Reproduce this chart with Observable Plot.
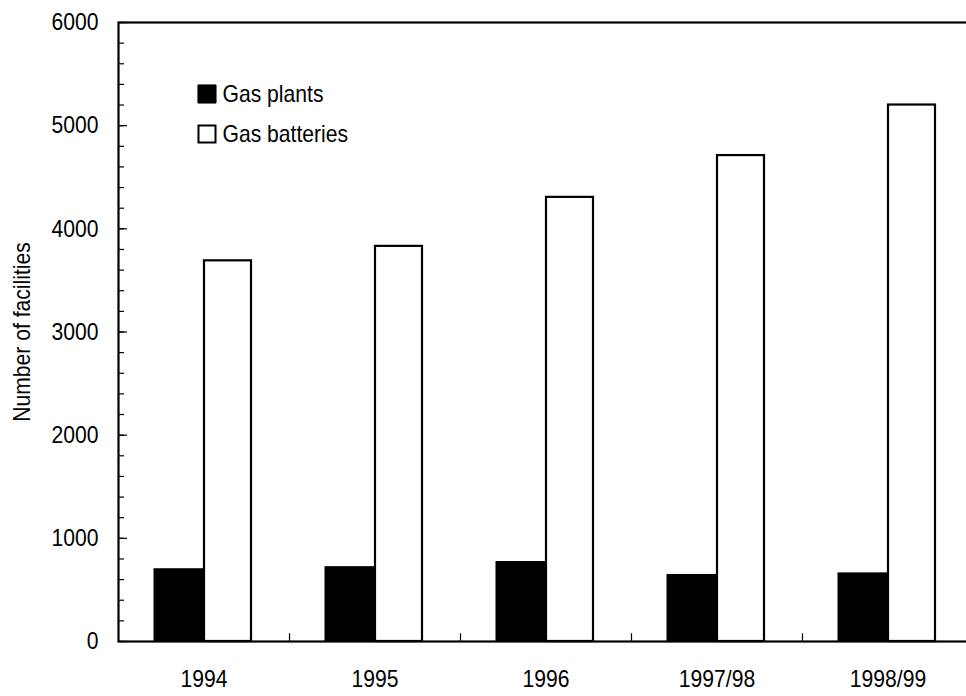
<!DOCTYPE html>
<html>
<head>
<meta charset="utf-8">
<script src="https://cdn.jsdelivr.net/npm/d3@7"></script>
<script src="https://cdn.jsdelivr.net/npm/@observablehq/plot@0.6"></script>
<style>
  html, body { margin: 0; padding: 0; background: #fff; }
  #chart { width: 966px; height: 696px; overflow: hidden; }
</style>
</head>
<body>
<div id="chart"></div>
<script>
const years = ["1994", "1995", "1996", "1997/98", "1998/99"];
const gasPlants = [700, 720, 770, 645, 660];
const gasBatteries = [3690, 3830, 4305, 4710, 5200];
const seriesNames = ["Gas plants", "Gas batteries"];
const yTicks = [0, 1000, 2000, 3000, 4000, 5000, 6000];
const yMinorTicks = d3.range(0, 6001, 200);

const plants = years.map((y, i) => ({year: y, value: gasPlants[i]}));
const batteries = years.map((y, i) => ({year: y, value: gasBatteries[i]}));

const font = "'Liberation Sans', Arial, sans-serif";
const fs = 24;
const condense = 0.88;

const chart = Plot.plot({
  width: 966,
  height: 696,
  marginLeft: 118,
  marginRight: -7,
  marginTop: 22,
  marginBottom: 55,
  style: {fontFamily: font, color: "#000", background: "#fff"},
  x: {domain: years, padding: 0, label: null, axis: null},
  y: {domain: [0, 6000], label: null, axis: null},
  marks: [
    // bars
    Plot.barY(plants, {x: "year", y: "value", fill: "#000", stroke: "#000", strokeWidth: 1, insetLeft: 36, insetRight: 85}),
    Plot.barY(batteries, {x: "year", y: "value", fill: "#fff", stroke: "#000", strokeWidth: 2.2, insetLeft: 86, insetRight: 38}),
    // frame (right side falls outside the view)
    Plot.frame({stroke: "#000", strokeWidth: 2.2}),
    // y tick labels
    Plot.text(yTicks, {y: d => d, frameAnchor: "left", dx: -20, textAnchor: "end", text: d => String(d), fontSize: fs, fill: "#000"}),
    // y axis ticks (inward)
    Plot.tickY(yMinorTicks, {y: d => d, stroke: "#000", strokeWidth: 1.2, insetRight: 855 - 6}),
    Plot.tickY(yTicks, {y: d => d, stroke: "#000", strokeWidth: 1.2, insetRight: 855 - 9}),
    // x tick labels
    Plot.text(years, {x: d => d, frameAnchor: "bottom", dy: 45, text: d => d, fontSize: fs, fill: "#000"}),
    // x ticks at category boundaries (inward)
    Plot.ruleX(years.slice(1), {x: d => d, y1: 0, y2: 75, dx: -85.5, stroke: "#000", strokeWidth: 1.2}),
    // y axis title
    Plot.text(["Number of facilities"], {frameAnchor: "left", dx: -96, rotate: -90, textAnchor: "middle", fontSize: fs, fill: "#000"}),
    // legend
    Plot.dot([seriesNames[0]], {frameAnchor: "top-left", dx: 88.5, dy: 71.5, symbol: "square", r: 10.2, fill: "#000", stroke: "#000", strokeWidth: 1}),
    Plot.dot([seriesNames[1]], {frameAnchor: "top-left", dx: 88.5, dy: 111.5, symbol: "square", r: 9.6, fill: "#fff", stroke: "#000", strokeWidth: 2}),
    Plot.text([seriesNames[0]], {frameAnchor: "top-left", dx: 104, dy: 71.5, text: d => d, textAnchor: "start", lineAnchor: "middle", fontSize: fs, fill: "#000"}),
    Plot.text([seriesNames[1]], {frameAnchor: "top-left", dx: 104, dy: 111.5, text: d => d, textAnchor: "start", lineAnchor: "middle", fontSize: fs, fill: "#000"})
  ]
});

document.getElementById("chart").appendChild(chart);

// condense glyphs along the text direction to mimic the narrow face of the original
chart.querySelectorAll("text").forEach(t => {
  const len = t.getComputedTextLength();
  if (len > 0) {
    t.setAttribute("textLength", (len * condense).toFixed(2));
    t.setAttribute("lengthAdjust", "spacingAndGlyphs");
  }
});
</script>
</body>
</html>
